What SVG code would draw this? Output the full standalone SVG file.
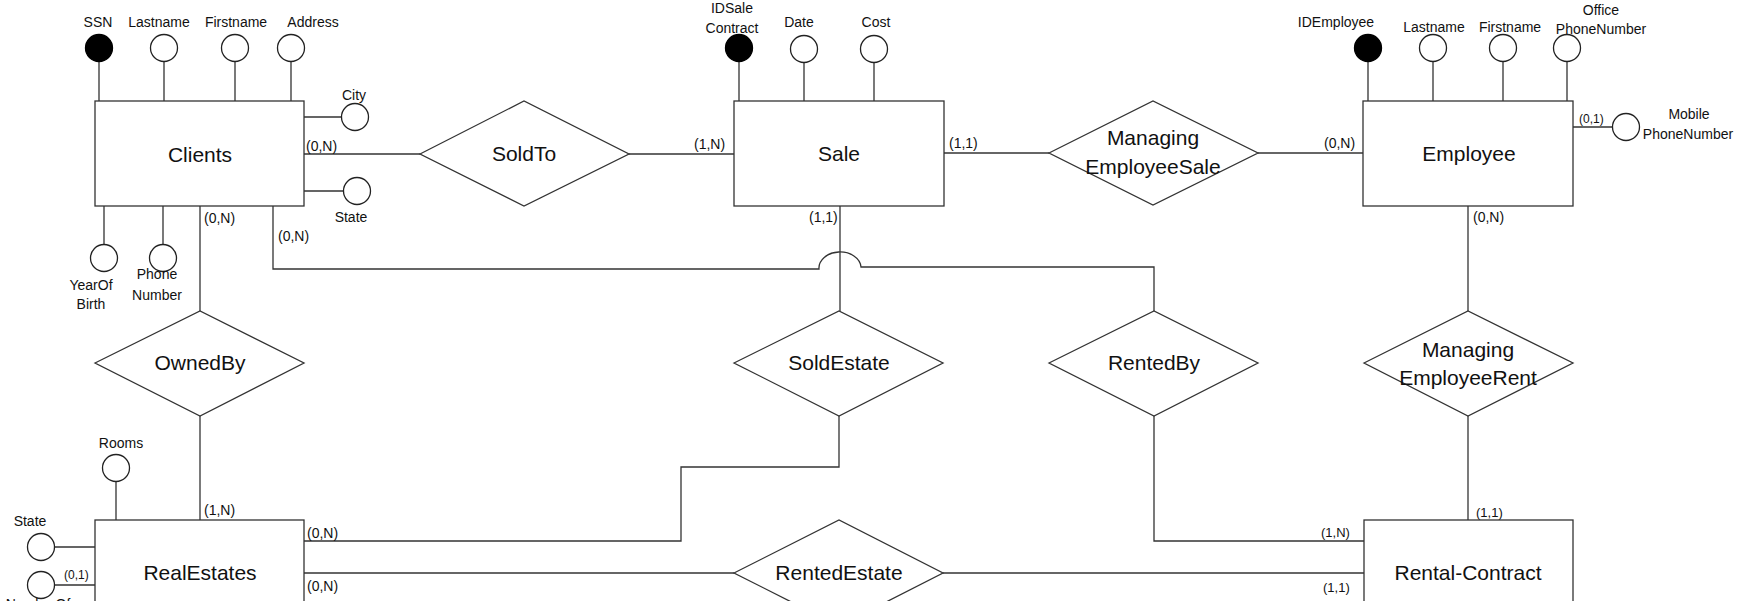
<svg xmlns="http://www.w3.org/2000/svg" width="1748" height="601" viewBox="0 0 1748 601">
<style>
.ln{stroke:#333;stroke-width:1.3;fill:none}
.box{fill:#fff;stroke:#333;stroke-width:1.3}
.att{fill:#fff;stroke:#222;stroke-width:1.3}
.key{fill:#000;stroke:#000;stroke-width:1.3}
text{font-family:"Liberation Sans",Arial,sans-serif;fill:#111}
.tm{font-size:21px;text-anchor:middle}
.ta{font-size:14px;text-anchor:middle}
.tc{font-size:14px}
.ts{font-size:12px}
</style>
<rect width="1748" height="601" fill="#fff"/>
<g id="connectors">
<path class="ln" d="M304,154H420"/>
<path class="ln" d="M629,154H734"/>
<path class="ln" d="M944,153H1049"/>
<path class="ln" d="M1258,153H1363"/>
<path class="ln" d="M200,206V311"/>
<path class="ln" d="M200,416V520"/>
<path class="ln" d="M840,206V311"/>
<path class="ln" d="M1468,206V311"/>
<path class="ln" d="M1468,416V520"/>
<path class="ln" d="M273,206V269H819A21,16 0 0 1 861,267H1154V311"/>
<path class="ln" d="M304,541H681V467H839V416"/>
<path class="ln" d="M304,573H734"/>
<path class="ln" d="M943,573H1364"/>
<path class="ln" d="M1154,416V541H1364"/>
<text class="tc" x="306" y="151">(0,N)</text>
<text class="tc" x="694" y="149">(1,N)</text>
<text class="tc" x="949" y="148">(1,1)</text>
<text class="tc" x="1324" y="148">(0,N)</text>
<text class="tc" x="204" y="223">(0,N)</text>
<text class="tc" x="278" y="241">(0,N)</text>
<text class="tc" x="809" y="222">(1,1)</text>
<text class="tc" x="1473" y="222">(0,N)</text>
<text class="tc" x="204" y="515">(1,N)</text>
<text class="tc" x="307" y="538">(0,N)</text>
<text class="tc" x="307" y="591">(0,N)</text>
<text class="tc" x="1321" y="537" style="font-size:13px">(1,N)</text>
<text class="tc" x="1476" y="517" style="font-size:13px">(1,1)</text>
<text class="tc" x="1323" y="592" style="font-size:13px">(1,1)</text>
</g>
<g id="clients">
<path class="ln" d="M99,61V101M164,61V101M235,61V101M291,61V101M302,117H342M304,191H343M104,206V245M163,206V245"/>
<rect class="box" x="95" y="101" width="209" height="105"/>
<text class="tm" x="200" y="162">Clients</text>
<circle class="key" cx="99" cy="48" r="13.5"/>
<circle class="att" cx="164" cy="48" r="13.5"/>
<circle class="att" cx="235" cy="48" r="13.5"/>
<circle class="att" cx="291" cy="48" r="13.5"/>
<circle class="att" cx="355" cy="117" r="13.5"/>
<circle class="att" cx="357" cy="191" r="13.5"/>
<circle class="att" cx="104" cy="258" r="13.5"/>
<circle class="att" cx="163" cy="258" r="13.5"/>
<text class="ta" x="98" y="27">SSN</text>
<text class="ta" x="159" y="27">Lastname</text>
<text class="ta" x="236" y="27">Firstname</text>
<text class="ta" x="313" y="27">Address</text>
<text class="ta" x="354" y="100">City</text>
<text class="ta" x="351" y="222">State</text>
<text class="ta" x="91" y="290">YearOf</text>
<text class="ta" x="91" y="309">Birth</text>
<text class="ta" x="157" y="279">Phone</text>
<text class="ta" x="157" y="300">Number</text>
</g>
<g id="soldto">
<polygon class="box" points="420,154 524,101 629,154 524,206"/>
<text class="tm" x="524" y="161">SoldTo</text>
</g>
<g id="sale">
<path class="ln" d="M739,61V101M804,62V101M874,62V101"/>
<rect class="box" x="734" y="101" width="210" height="105"/>
<text class="tm" x="839" y="161">Sale</text>
<circle class="key" cx="739" cy="48" r="13.5"/>
<circle class="att" cx="804" cy="49" r="13.5"/>
<circle class="att" cx="874" cy="49" r="13.5"/>
<text class="ta" x="732" y="13">IDSale</text>
<text class="ta" x="732" y="33">Contract</text>
<text class="ta" x="799" y="27">Date</text>
<text class="ta" x="876" y="27">Cost</text>
</g>
<g id="managing-employee-sale">
<polygon class="box" points="1049,153 1153,101 1258,153 1153,205"/>
<text class="tm" x="1153" y="145">Managing</text>
<text class="tm" x="1153" y="174">EmployeeSale</text>
</g>
<g id="employee">
<path class="ln" d="M1368,61V101M1433,61V101M1503,61V101M1567,61V101M1573,127H1612"/>
<rect class="box" x="1363" y="101" width="210" height="105"/>
<text class="tm" x="1469" y="161">Employee</text>
<circle class="key" cx="1368" cy="48" r="13.5"/>
<circle class="att" cx="1433" cy="48" r="13.5"/>
<circle class="att" cx="1503" cy="48" r="13.5"/>
<circle class="att" cx="1567" cy="48" r="13.5"/>
<circle class="att" cx="1626" cy="127" r="13.5"/>
<text class="ta" x="1336" y="27">IDEmployee</text>
<text class="ta" x="1434" y="32">Lastname</text>
<text class="ta" x="1510" y="32">Firstname</text>
<text class="ta" x="1601" y="15">Office</text>
<text class="ta" x="1601" y="34">PhoneNumber</text>
<text class="ts" x="1579" y="123">(0,1)</text>
<text class="ta" x="1689" y="119">Mobile</text>
<text class="ta" x="1688" y="139">PhoneNumber</text>
</g>
<g id="ownedby">
<polygon class="box" points="95,363 200,311 304,363 200,416"/>
<text class="tm" x="200" y="370">OwnedBy</text>
</g>
<g id="soldestate">
<polygon class="box" points="734,363 839,311 943,363 839,416"/>
<text class="tm" x="839" y="370">SoldEstate</text>
</g>
<g id="rentedby">
<polygon class="box" points="1049,363 1154,311 1258,363 1154,416"/>
<text class="tm" x="1154" y="370">RentedBy</text>
</g>
<g id="managing-employee-rent">
<polygon class="box" points="1364,363 1468,311 1573,363 1468,416"/>
<text class="tm" x="1468" y="357">Managing</text>
<text class="tm" x="1468" y="385">EmployeeRent</text>
</g>
<g id="realestates">
<path class="ln" d="M116,481V520M54,547H95M54,585H95"/>
<rect class="box" x="95" y="520" width="209" height="105"/>
<text class="tm" x="200" y="580">RealEstates</text>
<circle class="att" cx="116" cy="468" r="13.5"/>
<circle class="att" cx="41" cy="547" r="13.5"/>
<circle class="att" cx="41" cy="585" r="13.5"/>
<text class="ta" x="121" y="448">Rooms</text>
<text class="ta" x="30" y="526">State</text>
<text class="ts" x="64" y="579">(0,1)</text>
<text class="ta" x="38" y="609">NumberOf</text>
</g>
<g id="rentedestate">
<polygon class="box" points="734,573 839,520 943,573 839,626"/>
<text class="tm" x="839" y="580">RentedEstate</text>
</g>
<g id="rental-contract">
<rect class="box" x="1364" y="520" width="209" height="105"/>
<text class="tm" x="1468" y="580">Rental-Contract</text>
</g>
</svg>
